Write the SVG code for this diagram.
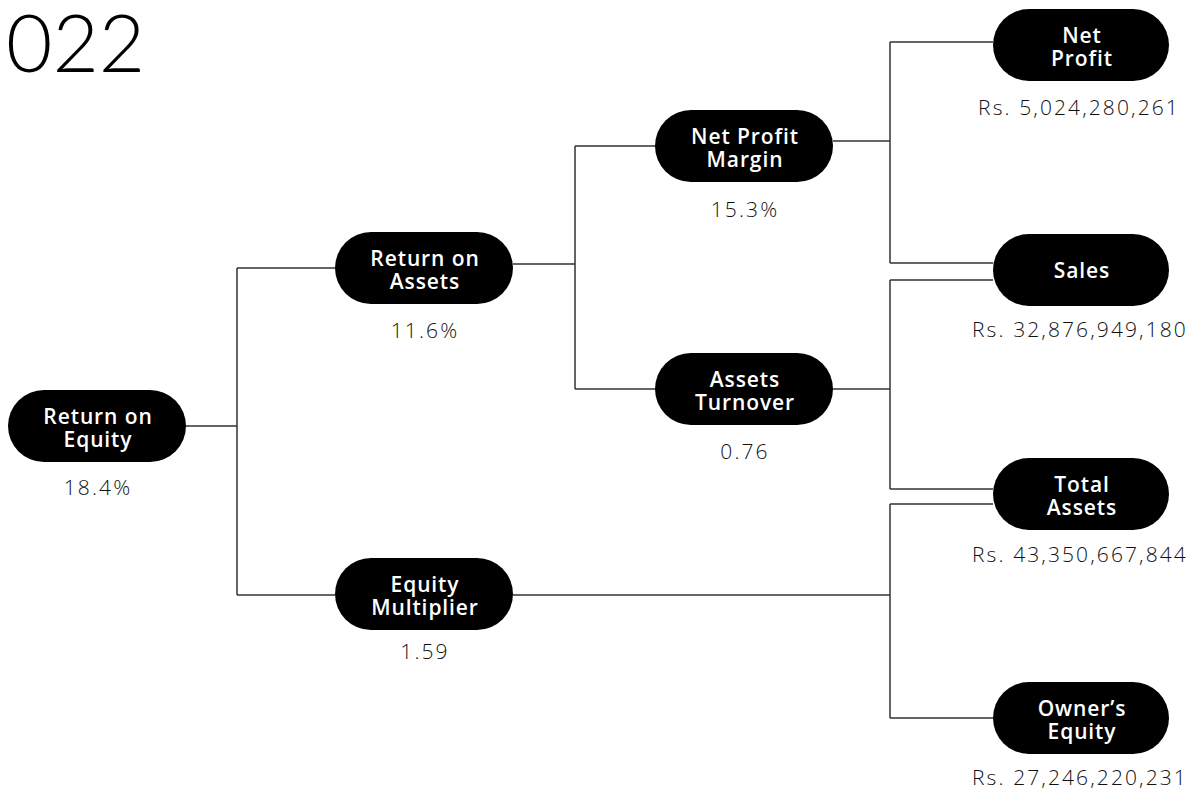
<svg xmlns="http://www.w3.org/2000/svg" width="1196" height="792" viewBox="0 0 1196 792">
<style>
.pill{fill:#000}
.lbl{font-family:"Open Sans","Liberation Sans",sans-serif;font-size:21px;font-weight:600;fill:#fff;text-anchor:middle;letter-spacing:0.9px}
.val{font-family:"Open Sans","Liberation Sans",sans-serif;font-size:21px;font-weight:300;fill:#111;text-anchor:middle;letter-spacing:2.1px}
.title{font-family:"Lato","Open Sans",sans-serif;font-size:80px;font-weight:300;fill:#000}
.conn{fill:none;stroke:#333;stroke-width:1.5}
</style>
<rect width="1196" height="792" fill="#fff"/>
<text class="title" x="6" y="72">022</text>
<g id="connectors">
<path class="conn" d="M186 426 H237 M237 268 V595 M237 268 H335 M237 595 H335"/>
<path class="conn" d="M513 264 H575 M575 146 V389 M575 146 H656 M575 389 H656"/>
<path class="conn" d="M833 141 H890 M890 42 V263 M890 42 H993 M890 263 H993"/>
<path class="conn" d="M833 389 H890 M890 280 V489 M890 280 H993 M890 489 H993"/>
<path class="conn" d="M513 595 H890 M890 504 V718 M890 504 H993 M890 718 H993"/>
</g>
<g id="roe">
<rect class="pill" x="8" y="390" width="178" height="72" rx="36"/>
<text class="lbl" x="98" y="424">Return on</text>
<text class="lbl" x="98" y="447">Equity</text>
<text class="val" x="98" y="495">18.4%</text>
</g>
<g id="roa">
<rect class="pill" x="335" y="232" width="178" height="72" rx="36"/>
<text class="lbl" x="425" y="266">Return on</text>
<text class="lbl" x="425" y="289">Assets</text>
<text class="val" x="425" y="338">11.6%</text>
</g>
<g id="em">
<rect class="pill" x="335" y="558" width="178" height="72" rx="36"/>
<text class="lbl" x="425" y="592">Equity</text>
<text class="lbl" x="425" y="615">Multiplier</text>
<text class="val" x="425" y="659">1.59</text>
</g>
<g id="npm">
<rect class="pill" x="655" y="110" width="178" height="72" rx="36"/>
<text class="lbl" x="745" y="144">Net Profit</text>
<text class="lbl" x="745" y="167">Margin</text>
<text class="val" x="745" y="217">15.3%</text>
</g>
<g id="at">
<rect class="pill" x="655" y="353" width="178" height="72" rx="36"/>
<text class="lbl" x="745" y="387">Assets</text>
<text class="lbl" x="745" y="410">Turnover</text>
<text class="val" x="745" y="459">0.76</text>
</g>
<g id="np">
<rect class="pill" x="993" y="9" width="176" height="72" rx="36"/>
<text class="lbl" x="1082" y="43">Net</text>
<text class="lbl" x="1082" y="66">Profit</text>
<text class="val" x="1079" y="115">Rs. 5,024,280,261</text>
</g>
<g id="sales">
<rect class="pill" x="993" y="234" width="176" height="72" rx="36"/>
<text class="lbl" x="1082" y="278">Sales</text>
<text class="val" x="1080" y="337">Rs. 32,876,949,180</text>
</g>
<g id="ta">
<rect class="pill" x="993" y="458" width="176" height="72" rx="36"/>
<text class="lbl" x="1082" y="492">Total</text>
<text class="lbl" x="1082" y="515">Assets</text>
<text class="val" x="1080" y="562">Rs. 43,350,667,844</text>
</g>
<g id="oe">
<rect class="pill" x="993" y="682" width="176" height="72" rx="36"/>
<text class="lbl" x="1082" y="716">Owner’s</text>
<text class="lbl" x="1082" y="739">Equity</text>
<text class="val" x="1080" y="785">Rs. 27,246,220,231</text>
</g>
</svg>
